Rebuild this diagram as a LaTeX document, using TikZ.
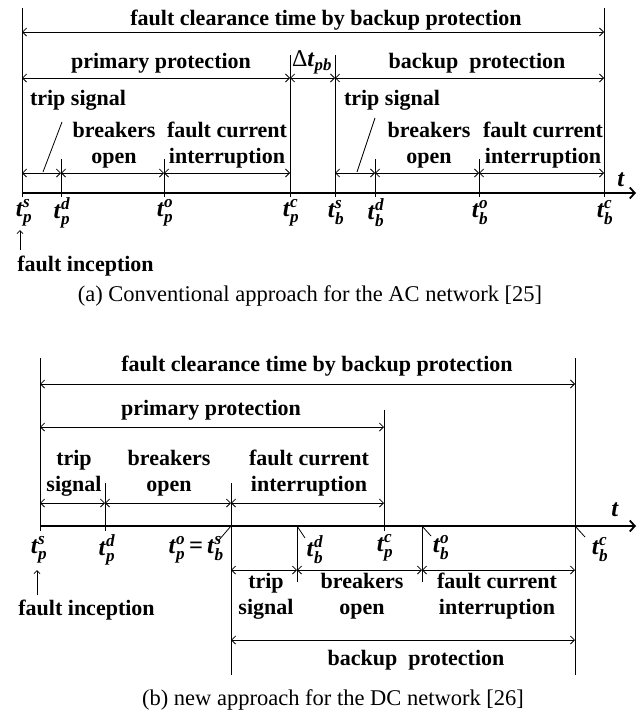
\documentclass[tikz,border=0pt]{standalone}
\usepackage{amsmath}
\usepackage{fontspec}
\setmainfont{Liberation Serif}
\usetikzlibrary{arrows.meta}
\newcommand\tv[2]{\textbf{\textit{t}}$_{\textbf{\textit{#1}}}^{\textbf{\textit{#2}}}$}
\begin{document}
\begin{tikzpicture}[x=1pt,y=-1pt,line width=0.8pt,
  dimline/.style={{Straight Barb[length=4pt,width=8pt]}-{Straight Barb[length=4pt,width=8pt]}},
  lbl/.style={font=\fontsize{22}{26}\selectfont\bfseries,inner sep=0pt,align=center},
  tk/.style={font=\fontsize{24.5}{28}\selectfont,inner sep=0pt},
  captxt/.style={font=\fontsize{22.5}{27}\selectfont,inner sep=0pt},
  axisline/.style={line width=1.8pt,-{Straight Barb[length=5pt,width=11pt]}},
  uparrow/.style={-{Straight Barb[length=3pt,width=6pt]}}]
\useasboundingbox (0,0) rectangle (643,715);
% ================= panel (a) =================
\coordinate (ps) at (22,193);
\coordinate (pd) at (61,193);
\coordinate (po) at (164,193);
\coordinate (pc) at (290,193);
\coordinate (bs) at (335,193);
\coordinate (bd) at (375,193);
\coordinate (bo) at (479,193);
\coordinate (bc) at (604,193);
\coordinate (aend) at (636,193);
\coordinate (aT0) at (0,8);
\coordinate (aT1) at (0,55);
\coordinate (aT2) at (0,159);
\coordinate (aB) at (0,197);
\coordinate (aL1) at (0,32);
\coordinate (aL2) at (0,78);
\coordinate (aL3) at (0,173);
\draw[axisline] (ps) -- (aend);
\draw (ps |- aT0) -- (ps |- aB);
\draw (bc |- aT0) -- (bc |- aB);
\draw (pc |- aT1) -- (pc |- aB);
\draw (bs |- aT1) -- (bs |- aB);
\foreach \c in {pd,po,bd,bo} \draw (\c |- aT2) -- (\c |- aB);
\draw[dimline] (ps |- aL1) -- (bc |- aL1);
\draw[dimline] (ps |- aL2) -- (pc |- aL2);
\draw[dimline] (pc |- aL2) -- (bs |- aL2);
\draw[dimline] (bs |- aL2) -- (bc |- aL2);
\draw[dimline] (ps |- aL3) -- (pd |- aL3);
\draw[dimline] (pd |- aL3) -- (po |- aL3);
\draw[dimline] (po |- aL3) -- (pc |- aL3);
\draw[dimline] (bs |- aL3) -- (bd |- aL3);
\draw[dimline] (bd |- aL3) -- (bo |- aL3);
\draw[dimline] (bo |- aL3) -- (bc |- aL3);
\node[lbl] (aTitle) at (326,20) {fault clearance time by backup protection};
\node[lbl] (aPri) at (161,63) {primary protection};
\node[lbl] (aDt) at (312,62) {{\mdseries\fontsize{24}{26}\selectfont Δ}{\fontsize{24}{26}\selectfont\textbf{\textit{t}}$_{\textbf{\textit{pb}}}$}};
\node[lbl] (aBak) at (477,63) {backup\ \ protection};
\node[lbl] (aTrip1) at (78,100) {trip signal};
\node[lbl] (aBrk1) at (114,145) {breakers\\open};
\node[lbl] (aFci1) at (227,145) {fault current\\interruption};
\node[lbl] (aTrip2) at (392,100) {trip signal};
\node[lbl] (aBrk2) at (429,145) {breakers\\open};
\node[lbl] (aFci2) at (543,145) {fault current\\interruption};
\coordinate (aLa1) at (62,122); \coordinate (aLa2) at (43,172);
\coordinate (aLb1) at (375,118); \coordinate (aLb2) at (357,172);
\draw (aLa1) -- (aLa2);
\draw (aLb1) -- (aLb2);
\node[tk] (aT) at (621,180) {\textbf{\textit{t}}};
\node[tk] (lps) at (24,213) {\tv{p}{s}};
\node[tk] (lpd) at (62,213) {\tv{p}{d}};
\node[tk] (lpo) at (165,213) {\tv{p}{o}};
\node[tk] (lpc) at (291,213) {\tv{p}{c}};
\node[tk] (lbs) at (336,213) {\tv{b}{s}};
\node[tk] (lbd) at (376,213) {\tv{b}{d}};
\node[tk] (lbo) at (480,213) {\tv{b}{o}};
\node[tk] (lbc) at (605,213) {\tv{b}{c}};
\coordinate (afi1) at (20,250); \coordinate (afi2) at (20,230);
\draw[uparrow] (afi1) -- (afi2);
\node[lbl,anchor=west] (aFI) at (17,266) {fault inception};
\node[captxt] (capA) at (310,296) {(a) Conventional approach for the AC network [25]};
% ================= panel (b) =================
\coordinate (qps) at (40,526);
\coordinate (qpd) at (105,526);
\coordinate (qpo) at (231,526);
\coordinate (qbd) at (297,526);
\coordinate (qpc) at (384,526);
\coordinate (qbo) at (422,526);
\coordinate (qbc) at (575,526);
\coordinate (bend) at (636,526);
\coordinate (bT0) at (0,358);
\coordinate (bT1) at (0,410);
\coordinate (bT2) at (0,483);
\coordinate (bB0) at (0,531);
\coordinate (bB1) at (0,582);
\coordinate (bB2) at (0,675);
\coordinate (bL1) at (0,384);
\coordinate (bL2) at (0,427);
\coordinate (bL3) at (0,503);
\coordinate (bL4) at (0,570);
\coordinate (bL5) at (0,640);
\draw[axisline] (qps) -- (bend);
\draw (qps |- bT0) -- (qps |- bB0);
\draw (qbc |- bT0) -- (qbc |- bB2);
\draw (qpc |- bT1) -- (qpc |- bB0);
\draw (qpd |- bT2) -- (qpd |- bB0);
\draw (qpo |- bT2) -- (qpo |- bB2);
\draw (qbd) -- (qbd |- bB1);
\draw (qbo) -- (qbo |- bB1);
\draw[dimline] (qps |- bL1) -- (qbc |- bL1);
\draw[dimline] (qps |- bL2) -- (qpc |- bL2);
\draw[dimline] (qps |- bL3) -- (qpd |- bL3);
\draw[dimline] (qpd |- bL3) -- (qpo |- bL3);
\draw[dimline] (qpo |- bL3) -- (qpc |- bL3);
\draw[dimline] (qpo |- bL4) -- (qbd |- bL4);
\draw[dimline] (qbd |- bL4) -- (qbo |- bL4);
\draw[dimline] (qbo |- bL4) -- (qbc |- bL4);
\draw[dimline] (qpo |- bL5) -- (qbc |- bL5);
\node[lbl] (bTitle) at (317,366) {fault clearance time by backup protection};
\node[lbl] (bPri) at (211,410) {primary protection};
\node[lbl] (bTrip1) at (74,473) {trip\\signal};
\node[lbl] (bBrk1) at (169,473) {breakers\\open};
\node[lbl] (bFci1) at (309,473) {fault current\\interruption};
\node[tk] (bT) at (615,510) {\textbf{\textit{t}}};
\node[tk] (mps) at (39,550) {\tv{p}{s}};
\node[tk] (mpd) at (107,550) {\tv{p}{d}};
\node[tk,anchor=east] (mpo) at (224,550) {\tv{p}{o}\hspace{4pt}\textbf{=}\hspace{4pt}\tv{b}{s}};
\node[tk] (mbd) at (315,550) {\tv{b}{d}};
\node[tk] (mpc) at (385,548) {\tv{p}{c}};
\node[tk] (mbo) at (441,548) {\tv{b}{o}};
\node[tk] (mbc) at (600,550) {\tv{b}{c}};
\coordinate (bk1) at (219,540); \coordinate (bk2) at (305,538);
\coordinate (bk3) at (431,536); \coordinate (bk4) at (585,537);
\draw (qpo) -- (bk1);
\draw (qbd) -- (bk2);
\draw (qbo) -- (bk3);
\draw (qbc) -- (bk4);
\node[lbl] (bTrip2) at (266,596) {trip\\signal};
\node[lbl] (bBrk2) at (362,596) {breakers\\open};
\node[lbl] (bFci2) at (497,596) {fault current\\interruption};
\node[lbl] (bBak) at (416,660) {backup\ \ protection};
\coordinate (bfi1) at (37,595); \coordinate (bfi2) at (37,570);
\draw[uparrow] (bfi1) -- (bfi2);
\node[lbl,anchor=west] (bFI) at (18,610) {fault inception};
\node[captxt] (capB) at (333,700) {(b) new approach for the DC network [26]};
\end{tikzpicture}
\end{document}
